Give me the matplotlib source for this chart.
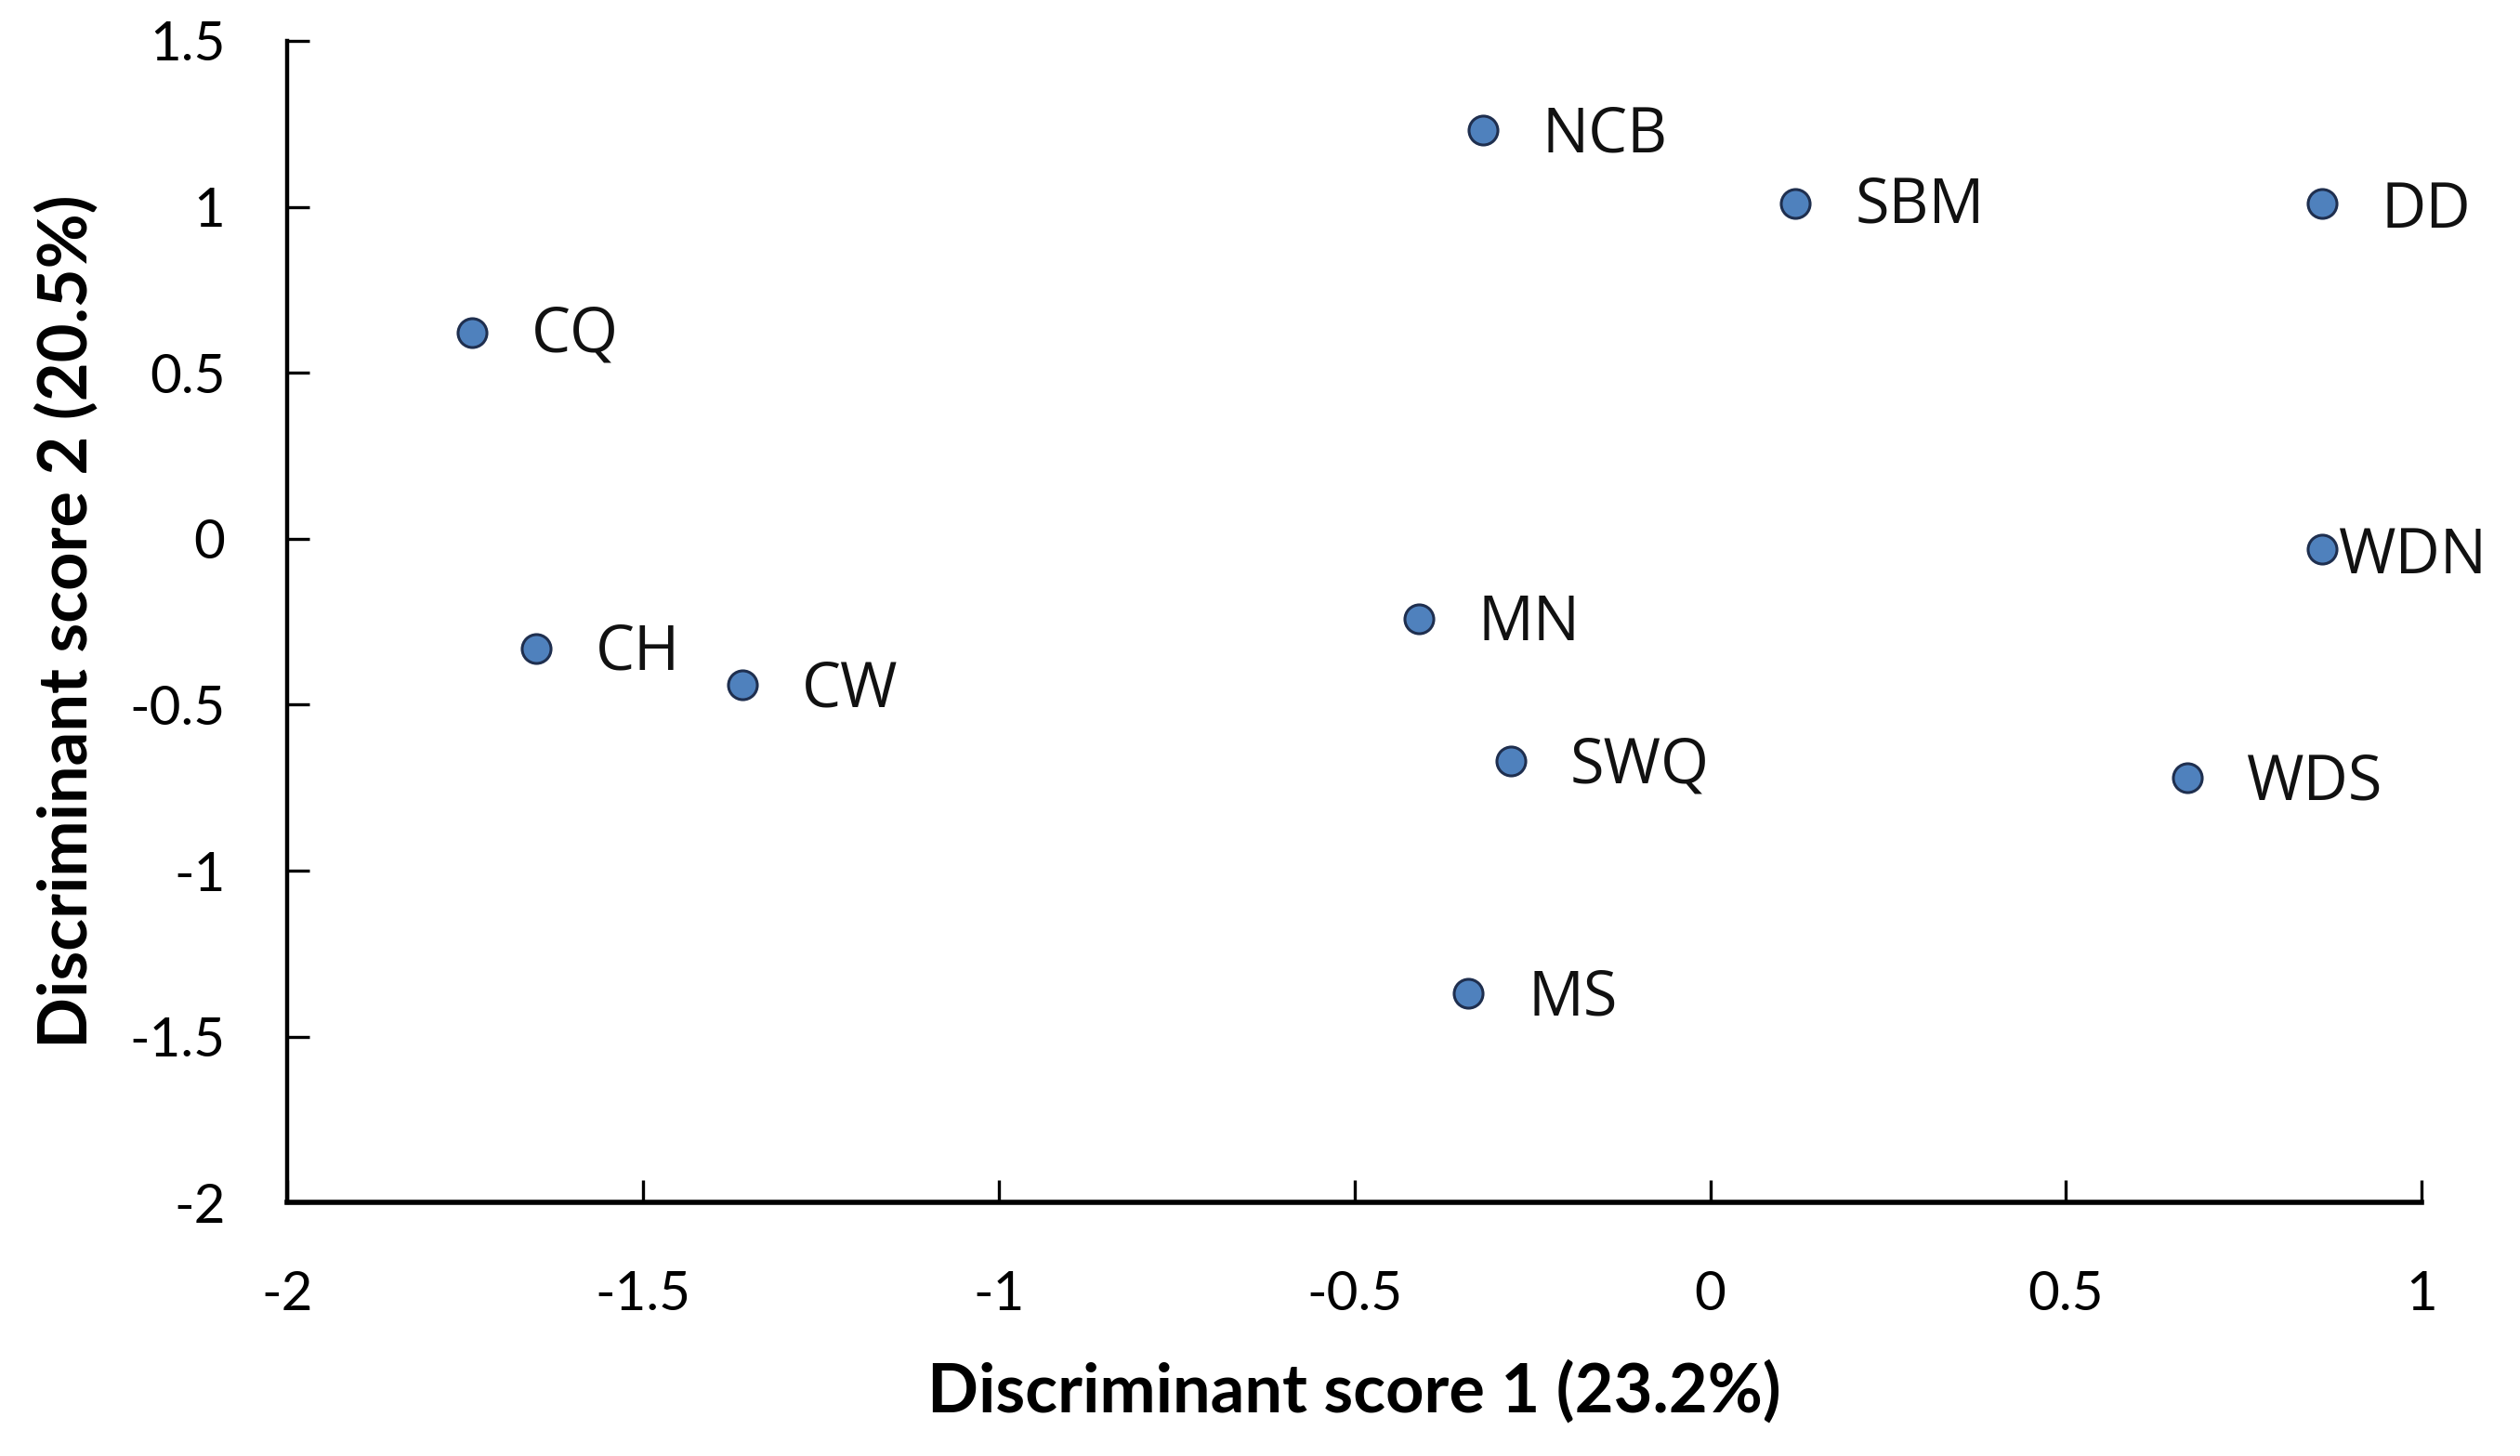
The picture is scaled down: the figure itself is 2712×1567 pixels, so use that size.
import matplotlib
matplotlib.use("Agg")
import matplotlib.pyplot as plt

# Discriminant scores
sites = ["NCB", "SBM", "DD", "CQ", "WDN", "MN", "CH", "CW", "SWQ", "WDS", "MS"]
score1 = [-0.32, 0.12, 0.86, -1.74, 0.86, -0.41, -1.65, -1.36, -0.28, 0.67, -0.34]
score2 = [1.23, 1.01, 1.01, 0.62, -0.03, -0.24, -0.33, -0.44, -0.67, -0.72, -1.37]

x_ticks = [-2, -1.5, -1, -0.5, 0, 0.5, 1]
y_ticks = [-2, -1.5, -1, -0.5, 0, 0.5, 1, 1.5]

# label offsets in points (WDN label sits right against its marker)
label_dx = {"WDN": 6}
label_dy = {"NCB": -2, "DD": -3, "WDN": -3, "MN": -2, "CH": -2, "CW": -2, "SWQ": -2, "WDS": -2, "MS": -2}

tick_font = ["Lato", "DejaVu Sans"]

fig = plt.figure(figsize=(13.56, 7.835), dpi=200)
ax = fig.add_axes([0.114, 0.174, 0.847, 0.798])

ax.scatter(score1, score2, s=125, color="#4F81BD", edgecolor="#1F2F4F",
           linewidth=1.1, zorder=3, clip_on=False)

for name, x, y in zip(sites, score1, score2):
    ax.annotate(name, (x, y), xytext=(label_dx.get(name, 23), label_dy.get(name, -1)),
                textcoords="offset points", ha="left", va="center",
                fontsize=24, family="Open Sans", color="#111111")

ax.set_xlim(-2, 1)
ax.set_ylim(-2, 1.5)
ax.set_xticks(x_ticks)
ax.set_yticks(y_ticks)
ax.set_xticklabels([f"{t:g}" for t in x_ticks], family=tick_font, fontsize=21)
ax.set_yticklabels([f"{t:g}" for t in y_ticks], family=tick_font, fontsize=21)

ax.spines["top"].set_visible(False)
ax.spines["right"].set_visible(False)
ax.spines["left"].set_linewidth(1.6)
ax.spines["bottom"].set_linewidth(2.0)
ax.tick_params(axis="both", direction="in", length=8.5, width=1.2, colors="black")
ax.tick_params(axis="y", pad=24)
ax.tick_params(axis="x", pad=26)

ax.set_xlabel("Discriminant score 1 (23.2%)", family=tick_font,
              fontweight="bold", fontsize=26, labelpad=16)
ax.set_ylabel("Discriminant score 2 (20.5%)", family=tick_font,
              fontweight="bold", fontsize=26, labelpad=12)

fig.savefig("out.png", dpi=200)
